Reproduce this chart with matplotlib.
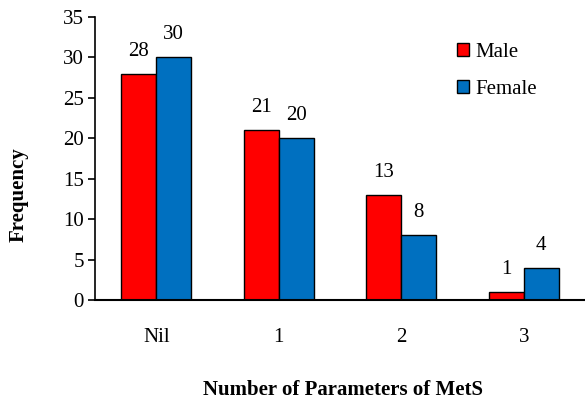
import numpy as np
import matplotlib.pyplot as plt

plt.rcParams['font.family'] = ['Liberation Serif', 'DejaVu Serif']

categories = ['Nil', '1', '2', '3']
male = [28, 21, 13, 1]
female = [30, 20, 8, 4]

x = np.arange(len(categories))
w = 0.285

fig = plt.figure(figsize=(5.85, 4.03), dpi=100)
ax = fig.add_axes([95 / 585, 1 - 300 / 403, 490 / 585, 283 / 403])

b1 = ax.bar(x - w / 2, male, w, color='#ff0000', edgecolor='black', linewidth=1, label='Male')
b2 = ax.bar(x + w / 2, female, w, color='#0070c0', edgecolor='black', linewidth=1, label='Female')

for bars, vals in ((b1, male), (b2, female)):
    for b, v in zip(bars, vals):
        ax.text(b.get_x() + b.get_width() / 2, v + 1.6, str(v),
                ha='center', va='bottom', fontsize=15)

ax.set_xlim(-0.5, 3.5)
ax.set_ylim(0, 35)
ax.set_yticks(range(0, 36, 5))
ax.set_xticks(x)
ax.set_xticklabels(categories)
ax.tick_params(axis='x', length=0, pad=20, labelsize=15)
ax.tick_params(axis='y', length=5, width=1.2, labelsize=15, pad=3)
for s in ('top', 'right'):
    ax.spines[s].set_visible(False)
ax.spines['left'].set_linewidth(1.2)
ax.spines['bottom'].set_linewidth(1.5)

fig.text(19 / 585, 1 - 195 / 403, 'Frequency', rotation=90,
         ha='center', va='center', fontsize=15, fontweight='bold')
fig.text(343 / 585, 1 - 390 / 403, 'Number of Parameters of MetS',
         ha='center', va='center', fontsize=15, fontweight='bold')

ax.legend(loc='upper left', bbox_to_anchor=(0.70, 0.975), frameon=False,
          fontsize=15, handlelength=0.6, handleheight=0.6, handletextpad=0.3,
          labelspacing=0.85)

fig.savefig('out.png', dpi=100)
